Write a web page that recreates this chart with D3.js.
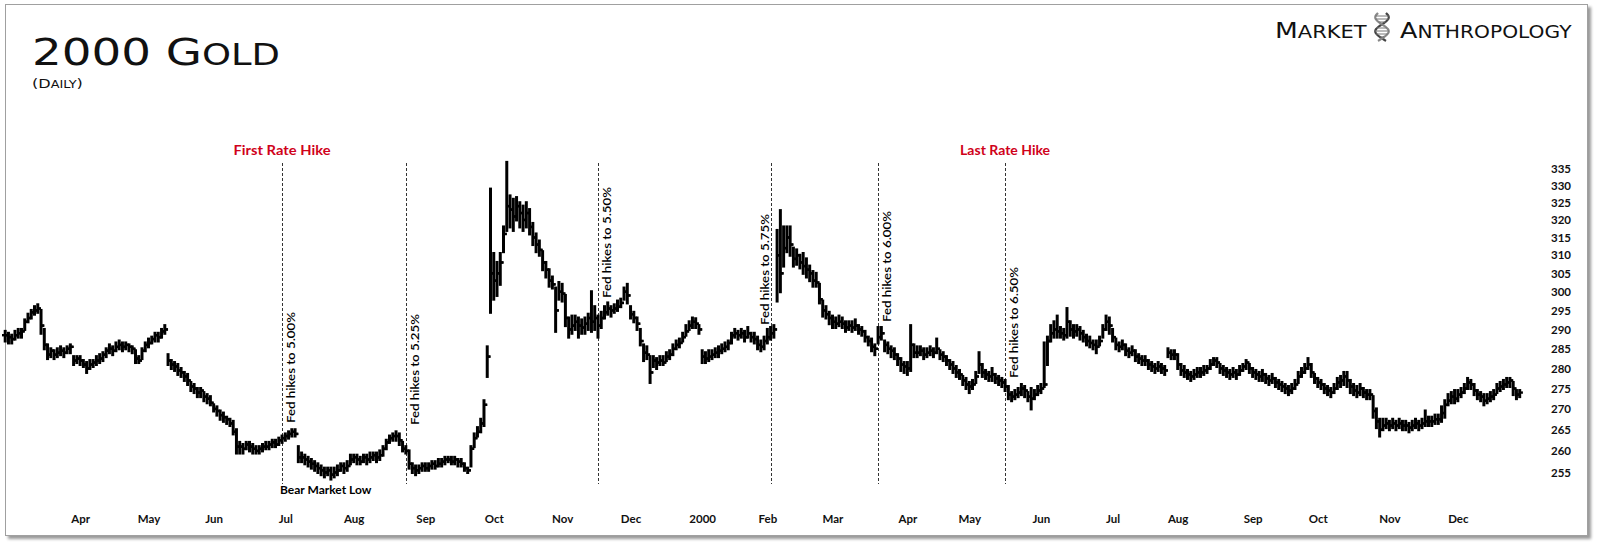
<!DOCTYPE html>
<html>
<head>
<meta charset="utf-8">
<script src="https://cdn.jsdelivr.net/npm/d3@7"></script>
<style>
  body { margin: 0; background: #fff; }
  text { font-family: Lato, "Open Sans", sans-serif; }
</style>
</head>
<body>
<svg id="chart" width="1600" height="547"></svg>
<script>
// daily gold bars, Mar 1999 - Dec 2000, one entry per trading day
const high = [
  289.5,289,288.5,289.5,290,290,292.5,294,295,296,
  296.5,295,290,286,285,284.5,285,285.5,285,285.5,
  286,283,283,283,282,281.5,282,282,283,283.5,
  284,285,286,285.5,286.5,287,286.5,286.5,286,285.5,
  284.5,283,285,286.5,287.5,288,289,289,290,291,
  283.5,282,281.5,281,280,279,278.5,276.5,276,275,
  275,274,273.5,273,271,270.5,269.5,269,268,267.5,
  267,265,262,261.5,262,262,261.5,261,261,261.5,
  262,262,262.5,262.5,263,263.5,264,264.5,265,265,
  261,259.5,259,258.5,258,257.5,257,256.5,256,256,
  256,256,256.5,257,257,257.5,259,259,259,258.5,
  259,259,259.5,259.5,259.5,260,261,262.5,263.5,264,
  264.5,264,262,261,260,257,256.5,256.5,257,257,
  257,257.5,257.5,258,258,258.5,258.5,258.5,258.5,258,
  258,257,256,261,264,265.5,267.5,272,285.5,329,
  310.5,308,310.5,318,337,327,326,326.5,325,324,
  325,323,319,316,314,311,308,306,304,301,
  302.5,302,299,293,293.5,293.5,293,292.5,293,294,
  300,296,293.5,294.5,296,297,296,296.5,297.5,298,
  301,302,296,294.5,293,290,286,285.5,283,283,
  282.5,283,283,284,284.5,286,287,287.5,289,291,
  292,293,292.8,291,284.5,284,284.5,284.5,285,285.5,
  286,286.5,287,289,290,289.5,290,289.5,290.5,289,
  289,288,287,288,290,290.5,291,317,322.7,318,
  318,318,312,311.5,310,310.5,309,307,305.5,305,
  302,297.5,296,294.5,293.5,293,293.5,293,292,292,
  292,292.5,291,290.5,289.5,288,287.5,286,290.5,290.5,
  287,286.5,285.5,285,283.5,282.5,281.5,281.5,291,286,
  285.5,285.5,285,285,285.5,285,287.5,284.5,284,283,
  282,281.5,280.5,279.5,278,277.5,276.5,277,279,284,
  281,279.5,279,280,278.5,278,277.5,277,275.5,274,
  274.5,275,276,275.5,274,275,274.5,275.5,276,286.5,
  288,291,292,293.5,290.5,290,295.5,292,291,291,
  290.5,289.5,288.5,288,287,287,288,291,293.5,293,
  290,287.5,286.5,287,286,285,285.5,284.5,283.5,283,
  283,282,281.5,281,281.5,281,280.5,285,284.5,284.5,
  283.5,281,280.5,279.5,279,279.5,280,280,280.5,280.5,
  282,282.5,282.5,281,280.5,280,279.5,280,279.5,280.5,
  281,282,281,280,279.5,279,279.5,278.5,278,278.5,
  277.5,277,276.5,276,275.5,276,277,279,280,281,
  282.5,281,278.5,277.5,277,276,275.5,275,276,277.5,
  278,279,279,277,276,275.5,276,275,274.5,274.5,
  273,270,267.5,267.5,267.5,267,267.5,267,267.5,267,
  267,266.5,267,267.5,267,267.5,269.5,268,268,268.5,
  268.5,270.5,272,273.5,274,274.5,274.5,275,276,277.5,
  277,276,274.5,274,273.5,273.5,274,274.5,276,276.5,
  277,277.5,277.5,276.5,274.5,274.5
]
const low = [
  287,286.5,286.5,287.5,288,288,290,292,293,294,
  294.5,289,285,282.5,283,282.5,283,283.5,283,284,
  284,281,281.5,281,280.5,279,280,280.5,281,281.5,
  282,283,284,283.5,284.5,285,284.5,285,284.5,284,
  281.5,281.5,282.5,284.5,285.5,286.5,287,287,288,289,
  281,280,279.5,278.5,278,277,276,274.5,274,273,
  273,272,271.5,271,269.5,268.5,267.5,267,266.5,266,
  264,259.5,259.5,259.5,260.5,260,259.5,259.5,259.5,260,
  260.5,260.5,261,261,261.5,262,262.5,263,263.5,263.5,
  257.5,257.5,257,256.5,256,255.5,255,254.5,254,254.5,
  253.5,254,254.5,255.5,255,255.5,257,257.5,257,257,
  257.5,257,257.5,258,257.5,258,259,260.5,262,262.5,
  262.5,261.5,260,259.5,256,255,254.5,255,255.5,255.5,
  255.5,256,256,256.5,256.5,257,257.5,257,257,256.5,
  256.5,255.5,255,256.5,261,263.5,264.5,266,278,294.5,
  298,299,302,311,317,318,317,320,318,317,
  318,316,313,311,310,306,304,301.5,301,289.5,
  298,297.5,291,288,289,290,288,289,289,290,
  289.5,290,288,290.5,293,294,293.5,294.5,295,296,
  298,297,293,292,290,286,282,282.5,276.5,280.5,
  280,281,281,282,282.5,283.5,285,285.5,287,288.5,
  290,290.5,290.5,289,281.5,281.5,282,282.5,283,283,
  284,284.5,285,286.5,288,287.5,288,287,288,287,
  286.5,285,284.5,285,286.5,287.5,288,297.5,300,307,
  311,310,307,307.5,306.5,305,304,303,301.5,301.5,
  297,293.5,293,291.5,290.5,290.5,291,290.5,289.5,290,
  289.5,290,289,288.5,287,286,284.5,283.5,286.5,287.5,
  284.5,284,283,282.5,281,279.5,279,278.5,279.5,283,
  283,283.5,282.5,283,283.5,283,284,282.5,282,281,
  280,279,278,277.5,276,275,274,275,276.5,279,
  278,277.5,277,277,276.5,276,275.5,274.5,272.5,272,
  272.5,273,273.5,273,272,270,272.5,273.5,274,275.5,
  281,287,288,288,288,287.5,288,288.5,288,288.5,
  287.5,287,286,285.5,285,284,286,288,290,289,
  287,285,284.5,285,283.5,283,283.5,282,281.5,281,
  281,280,279.5,279,279.5,279,278.5,283,282.5,282.5,
  280,278.5,278,277.5,277,277.5,278,278,278.5,279,
  280,281,280.5,279,278.5,278,277.5,278,277.5,278.5,
  279.5,280,279,278,277.5,277,277,276.5,276,276.5,
  275.5,275,274.5,274,273.5,274,275,276.5,278,279,
  280,278,276.5,275.5,275,274,273.5,273,274,275,
  275.5,276,275.5,274,273.5,273,273.5,273,272.5,272.5,
  268,265.5,263.5,265,265.5,265,265.5,265,265.5,265,
  265,264.5,265,265.5,265,265.5,266,266,266,266.5,
  266.5,267,268,271,271.5,271.5,272,273,274,275,
  275,273.5,272.5,272,271,271.5,272,272.5,274,274.5,
  275,275.5,275.5,273.5,272.5,273
]
const close = [
  288.5,288,287.5,288.5,289,289.5,292,293,294.5,295,
  295.5,291,286,283.5,284.5,283.5,284,284.5,284,285,
  285.5,282,282.5,282,281,280,281,281.5,282,282.5,
  283.5,284.5,285,284.5,285.5,286,285.5,286,285.5,285,
  282.5,282,284.5,286,286.5,287.5,288.5,288,289.5,290,
  282,281,280.5,279.5,279,278,277,275.5,275,274,
  274.5,273,272.5,271.5,270,269.5,268.5,268,267.5,266.5,
  264.5,261,261,260.5,261.5,261,260.5,260,260.5,261,
  261,261.5,262,261.5,262.5,263,263.5,264,264.5,264,
  258.5,258.5,258,257.5,257,256.5,256,255.5,255,255.5,
  254.5,255,255.5,256.5,256,256.5,258,258.5,258,257.5,
  258.5,258,258.5,259,258.5,259,260.5,262,263,263.5,
  263.5,262.5,260.5,260,257,256,255.5,256,256.5,256,
  256.5,257,256.5,257,257.5,258,258,257.5,258,257.5,
  257,256,255.5,260.5,263,264.5,266.5,271,283,305,
  303,305,308,316,324,323,321,324,322,320,
  322,318,315,313,311.5,308,306,303,302,295,
  300,299.5,293,290,291,292,291,290.5,291.5,293,
  292,293,291,293,294.5,295.5,295,295.5,296,297,
  300,299,294,293,291.5,287,284,283.5,279,282,
  281.5,282,281.5,283,283.5,285,286,286.5,288,289.5,
  291,292,291.5,290,283,282.5,283,283.5,284,284.5,
  285,285.5,286.5,288.5,289,288.5,289,288,289,288,
  287.5,286,285.5,287,288,289,290,310,305,312,
  315,313,309,310,308,307,306,305,303,302.5,
  298,295,294,293,292,291.5,292,291.5,290.5,291,
  290.5,291,290,289.5,288,287,285.5,285,288,289,
  286,285,284.5,283.5,282.5,281,280.5,280,286,284,
  284,284.5,283.5,284,284.5,284,285,283.5,283,282,
  281,280,279,278.5,277,276,275.5,276,278,281,
  279,278.5,278,278.5,277.5,277,276.5,275.5,273.5,273,
  273.5,274,275,274.5,273,272.5,273.5,274.5,275,276,
  287,289,290,289.5,289,288.5,292,290,289.5,290,
  289,288,287,286.5,286,285.5,287,290,292,291,
  288,286,285.5,286,284.5,284,284.5,283,282.5,282,
  282,281,280.5,280,280.5,280,279.5,284,283.5,283.5,
  281,279.5,279,278.5,278,278.5,279,279,279.5,280,
  281,282,281.5,280,279.5,279,278.5,279,278.5,279.5,
  280.5,281.5,280,279,278.5,278,278.5,277.5,277,277.5,
  276.5,276,275.5,275,274.5,275,276,278,279,280,
  281,279,277.5,276.5,276,275,274.5,274,275,276.5,
  277,278,277,275.5,274.5,274,275,274,273.5,273.5,
  269.5,267,265,266,266.5,266,266.5,266,266.5,266,
  266,265.5,266,266.5,266,266.5,267,267,267,267.5,
  267.5,269,271,272,273,272.5,273.5,274,275,276.5,
  276,274.5,273.5,273,272,272.5,273,273.5,275,275.5,
  276,276.5,277,275,273.5,274
]

const holidays = ['1999-04-02','1999-05-31','1999-07-05','1999-09-06','1999-11-25','1999-12-24',
  '2000-01-17','2000-02-21','2000-04-21','2000-05-29','2000-07-04','2000-09-04','2000-11-23','2000-12-25']
const yTicks = [255,260,265,270,275,280,285,290,295,300,305,310,315,320,325,330,335]
const hikes = [
  { date: '1999-06-30', label: 'Fed hikes to 5.00%' },
  { date: '1999-08-24', label: 'Fed hikes to 5.25%' },
  { date: '1999-11-16', label: 'Fed hikes to 5.50%' },
  { date: '2000-02-02', label: 'Fed hikes to 5.75%' },
  { date: '2000-03-21', label: 'Fed hikes to 6.00%' },
  { date: '2000-05-16', label: 'Fed hikes to 6.50%' }
]

// layout of the hike labels: pixel bottom of the rotated text and which side of the line
const hikeLabelBottom = [423, 425, 298, 325, 322, 378]
const hikeLabelSide = [1, 1, 1, -1, 1, 1]

const svg = d3.select('#chart')
const fmt = d3.timeFormat('%Y-%m-%d')

const days = d3.timeDay.range(new Date(1999, 2, 1), new Date(2000, 11, 30))
  .filter(d => d.getDay() % 6 !== 0 && !holidays.includes(fmt(d)))

const x = d3.scaleLinear().domain([0, days.length - 1]).range([5.2, 1519.7])
const y = d3.scaleLog().domain([255, 335]).range([472.5, 169])

// frame with shadow
const defs = svg.append('defs')
defs.append('filter').attr('id', 'shadow')
    .attr('x', '-1%').attr('y', '-1%').attr('width', '103%').attr('height', '104%')
  .append('feDropShadow')
    .attr('dx', 3).attr('dy', 3).attr('stdDeviation', 1.5)
    .attr('flood-color', '#000').attr('flood-opacity', 0.4)

svg.append('rect')
  .attr('x', 5.5).attr('y', 4.5).attr('width', 1582).attr('height', 531)
  .attr('fill', '#fff').attr('stroke', '#a0a0a0').attr('stroke-width', 1)
  .attr('filter', 'url(#shadow)')

// helper: stretch a text horizontally to a target width
function fitWidth(sel, x0, width) {
  const w = sel.node().getBBox().width
  sel.attr('transform', `translate(${x0},0) scale(${width / w},1) translate(${-x0},0)`)
}

// title
const title = svg.append('text').attr('x', 32).attr('y', 65).attr('fill', '#111')
  .style('font-family', '"DejaVu Sans", sans-serif')
title.append('tspan').attr('font-size', 38).text('2000 G')
title.append('tspan').attr('font-size', 30).text('OLD')
fitWidth(title, 32, 248)

const sub = svg.append('text').attr('x', 32).attr('y', 88).attr('fill', '#111')
  .style('font-family', '"DejaVu Sans", sans-serif')
sub.append('tspan').attr('font-size', 12.5).text('(D')
sub.append('tspan').attr('font-size', 10).text('AILY')
sub.append('tspan').attr('font-size', 12.5).text(')')
fitWidth(sub, 32, 51)

// logo
const logoWords = [['M', 'ARKET', 1275, 92], ['A', 'NTHROPOLOGY', 1400, 172]]
logoWords.forEach(([cap, rest, x0, w]) => {
  const t = svg.append('text').attr('x', x0).attr('y', 38).attr('fill', '#111')
    .style('font-family', '"DejaVu Sans", sans-serif')
  t.append('tspan').attr('font-size', 22).text(cap)
  t.append('tspan').attr('font-size', 17.5).text(rest)
  fitWidth(t, x0, w)
})
const helix = svg.append('g').attr('transform', 'translate(1382,13)')
const strand = s => d3.line().curve(d3.curveBasis)(d3.range(0, 29, 2).map(v => [s * 7 * Math.sin(v / 28 * 2 * Math.PI + 0.6), v]))
helix.append('path').attr('d', strand(1)).attr('fill', 'none').attr('stroke', '#444').attr('stroke-width', 2.2)
helix.append('path').attr('d', strand(-1)).attr('fill', 'none').attr('stroke', '#888').attr('stroke-width', 2.2)
d3.range(3, 27, 3).forEach(v => {
  const dx = 7 * Math.sin(v / 28 * 2 * Math.PI + 0.6)
  helix.append('line').attr('x1', -dx).attr('x2', dx).attr('y1', v).attr('y2', v)
    .attr('stroke', '#777').attr('stroke-width', 1)
})

// y axis on the right
svg.append('g')
  .attr('transform', 'translate(1549,0)')
  .call(d3.axisRight(y).tickValues(yTicks).tickFormat(d3.format('d')).tickSize(0).tickPadding(2))
  .call(g => g.select('.domain').remove())
  .call(g => g.selectAll('text')
    .attr('font-family', 'Lato, sans-serif').attr('font-size', 11.5).attr('font-weight', 700).attr('fill', '#111'))

// x axis: first trading day of each month
const monthStarts = days.map((d, i) => i).filter(i => i > 0 && days[i].getMonth() !== days[i - 1].getMonth())
svg.append('g')
  .attr('transform', 'translate(0,511)')
  .call(d3.axisBottom(x).tickValues(monthStarts)
    .tickFormat(i => days[i].getMonth() === 0 ? d3.timeFormat('%Y')(days[i]) : d3.timeFormat('%b')(days[i]))
    .tickSize(0).tickPadding(4))
  .call(g => g.select('.domain').remove())
  .call(g => g.selectAll('text')
    .attr('font-family', 'Lato, sans-serif').attr('font-size', 11.5).attr('font-weight', 700).attr('fill', '#111'))

// hike lines and labels
const dayIndex = new Map(days.map((d, i) => [fmt(d), i]))
const hikeG = svg.append('g').attr('class', 'hikes')
hikes.forEach((h, k) => {
  const hx = Math.round(x(dayIndex.get(h.date))) + 0.5
  hikeG.append('line')
    .attr('x1', hx).attr('x2', hx).attr('y1', 163).attr('y2', 484)
    .attr('stroke', '#333').attr('stroke-width', 1).attr('stroke-dasharray', '3,2')
  const tx = hikeLabelSide[k] > 0 ? hx + 12.5 : hx - 3
  hikeG.append('text')
    .attr('transform', `translate(${tx},${hikeLabelBottom[k]}) rotate(-90)`)
    .attr('font-family', '"Open Sans", sans-serif').attr('font-size', 12).attr('font-weight', 600)
    .attr('textLength', 111).attr('lengthAdjust', 'spacingAndGlyphs')
    .attr('fill', '#000')
    .text(h.label)
})

const firstX = x(dayIndex.get(hikes[0].date))
const lastX = x(dayIndex.get(hikes[hikes.length - 1].date))
svg.append('text').attr('x', firstX).attr('y', 155).attr('text-anchor', 'middle')
  .attr('font-size', 13).attr('font-weight', 700).attr('fill', '#d0021b')
  .attr('textLength', 97).attr('lengthAdjust', 'spacingAndGlyphs').text('First Rate Hike')
svg.append('text').attr('x', lastX).attr('y', 155).attr('text-anchor', 'middle')
  .attr('font-size', 13).attr('font-weight', 700).attr('fill', '#d0021b')
  .attr('textLength', 90).attr('lengthAdjust', 'spacingAndGlyphs').text('Last Rate Hike')
svg.append('text').attr('x', firstX - 2).attr('y', 494)
  .attr('font-size', 12).attr('font-weight', 700).attr('fill', '#000')
  .text('Bear Market Low')

// OHLC bars; open tick from the prior close
const bars = svg.append('g').attr('class', 'bars').attr('stroke', '#000')
bars.selectAll('line.hl').data(days).join('line').attr('class', 'hl')
  .attr('x1', (d, i) => x(i)).attr('x2', (d, i) => x(i))
  .attr('y1', (d, i) => y(high[i])).attr('y2', (d, i) => y(low[i]))
  .attr('stroke-width', 3).attr('stroke-linecap', 'square')
bars.selectAll('line.cl').data(days).join('line').attr('class', 'cl')
  .attr('x1', (d, i) => x(i)).attr('x2', (d, i) => x(i) + 3.2)
  .attr('y1', (d, i) => y(close[i])).attr('y2', (d, i) => y(close[i]))
  .attr('stroke-width', 2.4)
bars.selectAll('line.op').data(days).join('line').attr('class', 'op')
  .attr('x1', (d, i) => x(i) - 3.2).attr('x2', (d, i) => x(i))
  .attr('y1', (d, i) => y(close[Math.max(0, i - 1)])).attr('y2', (d, i) => y(close[Math.max(0, i - 1)]))
  .attr('stroke-width', 2.4)
</script>
</body>
</html>
